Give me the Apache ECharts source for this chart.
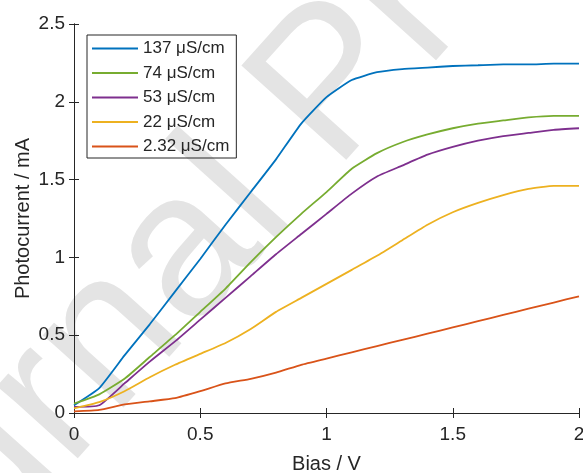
<!DOCTYPE html>
<html>
<head>
<meta charset="utf-8">
<script src="https://cdn.jsdelivr.net/npm/echarts@6/dist/echarts.min.js"></script>
<style>
    html, body { margin: 0; padding: 0; background: #fff; width: 100%; height: 100%; overflow: hidden; }
    #photo_bias { width: 583px; height: 473px; }
</style>
</head>
<body>
<div id="photo_bias"></div>
<script>

// Chart data
// ------------------------------

var biasV = [0, 0.1, 0.2, 0.3, 0.4, 0.5, 0.6, 0.7, 0.8, 0.9, 1.0, 1.1, 1.2, 1.3, 1.4, 1.5, 1.6, 1.7, 1.8, 1.9, 2.0];

var seriesNames = ['137 μS/cm', '74 μS/cm', '53 μS/cm', '22 μS/cm', '2.32 μS/cm'];

var current137 = [0.05, 0.16, 0.37, 0.57, 0.78, 0.99, 1.21, 1.42, 1.63, 1.86, 2.03, 2.14, 2.19, 2.21, 2.22, 2.23, 2.235, 2.24, 2.24, 2.245, 2.245];
var current74  = [0.06, 0.12, 0.22, 0.36, 0.50, 0.65, 0.80, 0.97, 1.13, 1.28, 1.42, 1.57, 1.67, 1.74, 1.79, 1.83, 1.86, 1.88, 1.90, 1.91, 1.91];
var current53  = [0.04, 0.05, 0.19, 0.33, 0.46, 0.60, 0.74, 0.88, 1.02, 1.15, 1.28, 1.41, 1.52, 1.59, 1.66, 1.71, 1.75, 1.78, 1.80, 1.82, 1.83];
var current22  = [0.03, 0.07, 0.14, 0.23, 0.31, 0.38, 0.45, 0.54, 0.65, 0.74, 0.83, 0.92, 1.01, 1.11, 1.21, 1.29, 1.35, 1.40, 1.44, 1.46, 1.46];
var current2   = [0.01, 0.02, 0.055, 0.075, 0.095, 0.14, 0.19, 0.22, 0.26, 0.31, 0.35, 0.39, 0.43, 0.47, 0.51, 0.55, 0.59, 0.63, 0.67, 0.71, 0.75];

var xTicks = { min: 0, max: 2, interval: 0.5 };
var yTicks = { min: 0, max: 2.5, interval: 0.5 };


// Setup module
// ------------------------------

var PhotoBiasChart = function() {

    var _pairs = function(ys) {
        return biasV.map(function(x, i) { return [x, ys[i]]; });
    };

    var _lineSeries = function(name, ys) {
        return {
            name: name,
            type: 'line',
            symbol: 'none',
            smooth: 0.15,
            lineStyle: { width: 1.8 },
            emphasis: { disabled: true },
            data: _pairs(ys)
        };
    };

    var _init = function() {
        if (typeof echarts == 'undefined') {
            console.warn('Warning - echarts.min.js is not loaded.');
            return;
        }

        var el = document.getElementById('photo_bias');
        var chart = echarts.init(el, null, { renderer: 'canvas' });

        var axisColor = '#262626';
        var fontFamily = '"Liberation Sans", Arial, Helvetica, sans-serif';

        // shared bits for the box axes (top and right, ticks only)
        var boxAxis = {
            axisLine: { show: true, lineStyle: { color: axisColor, width: 1 } },
            axisTick: { show: true, inside: true, length: 5, lineStyle: { color: axisColor } },
            axisLabel: { show: false },
            splitLine: { show: false }
        };

        chart.setOption({
            animation: false,

            color: ['#0072BD', '#77AC30', '#7E2F8E', '#EDB120', '#D95319'],

            textStyle: {
                fontFamily: fontFamily,
                color: axisColor
            },

            // "Journal Pre-proof" watermark behind the plot
            graphic: [{
                type: 'text',
                z: -10,
                x: 335,
                y: 88,
                rotation: 48 * Math.PI / 180,
                style: {
                    text: 'Journal Pre-proof',
                    fontFamily: fontFamily,
                    fontSize: 205,
                    fill: '#e4e4e4',
                    textAlign: 'center',
                    textVerticalAlign: 'middle'
                }
            }],

            // fixed plot box, labels may run to the edge
            grid: {
                left: 74,
                right: 4,
                top: 24,
                bottom: 60,
                containLabel: false,
                outerBoundsMode: 'none'
            },

            legend: {
                data: seriesNames,
                orient: 'vertical',
                icon: 'rect',
                left: 87,
                top: 35,
                padding: [5, 7, 3, 5],
                itemWidth: 46,
                itemHeight: 2,
                itemGap: 7.5,
                borderColor: axisColor,
                borderWidth: 1,
                backgroundColor: 'rgba(255,255,255,0)',
                selectedMode: false,
                textStyle: {
                    fontFamily: fontFamily,
                    fontSize: 17,
                    lineHeight: 17,
                    color: axisColor
                }
            },

            xAxis: [{
                type: 'value',
                min: xTicks.min,
                max: xTicks.max,
                interval: xTicks.interval,
                name: 'Bias / V',
                nameLocation: 'middle',
                nameGap: 41,
                nameMoveOverlap: false,
                nameTextStyle: { fontSize: 20, color: axisColor, fontFamily: fontFamily },
                axisLine: { show: true, onZero: false, lineStyle: { color: axisColor, width: 1 } },
                axisTick: { show: true, inside: true, length: 5, lineStyle: { color: axisColor } },
                axisLabel: { fontSize: 19, color: axisColor, margin: 12, fontFamily: fontFamily },
                splitLine: { show: false }
            }, Object.assign({
                type: 'value',
                position: 'top',
                min: xTicks.min,
                max: xTicks.max,
                interval: xTicks.interval
            }, boxAxis)],

            yAxis: [{
                type: 'value',
                min: yTicks.min,
                max: yTicks.max,
                interval: yTicks.interval,
                name: 'Photocurrent / mA',
                nameLocation: 'middle',
                nameGap: 41,
                nameMoveOverlap: false,
                nameTextStyle: { fontSize: 20, color: axisColor, fontFamily: fontFamily },
                axisLine: { show: true, onZero: false, lineStyle: { color: axisColor, width: 1 } },
                axisTick: { show: true, inside: true, length: 5, lineStyle: { color: axisColor } },
                axisLabel: { fontSize: 19, color: axisColor, margin: 9, padding: [4, 0, 0, 0], fontFamily: fontFamily },
                splitLine: { show: false }
            }, Object.assign({
                type: 'value',
                position: 'right',
                min: yTicks.min,
                max: yTicks.max,
                interval: yTicks.interval
            }, boxAxis)],

            series: [
                _lineSeries(seriesNames[0], current137),
                _lineSeries(seriesNames[1], current74),
                _lineSeries(seriesNames[2], current53),
                _lineSeries(seriesNames[3], current22),
                _lineSeries(seriesNames[4], current2)
            ]
        });

        window.addEventListener('resize', function() {
            chart.resize();
        });
    };

    return {
        init: function() {
            _init();
        }
    };
}();


// Initialize module
// ------------------------------

document.addEventListener('DOMContentLoaded', function() {
    PhotoBiasChart.init();
});
</script>
</body>
</html>
